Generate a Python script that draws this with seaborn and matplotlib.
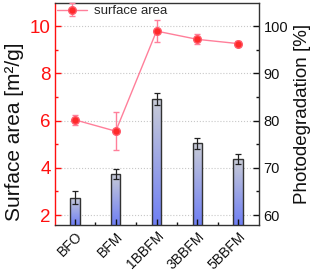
import numpy as np
import pandas as pd
import matplotlib
matplotlib.use("Agg")
import matplotlib.pyplot as plt
from matplotlib.ticker import MultipleLocator, FixedLocator
from matplotlib.colors import LinearSegmentedColormap
import seaborn as sns

categories = ["BFO", "BFM", "1BBFM", "3BBFM", "5BBFM"]
photodegradation = [63.7, 68.7, 84.6, 75.2, 71.8]
photo_err = [1.3, 1.0, 1.2, 1.2, 1.1]
surface_area = [6.03, 5.55, 9.79, 9.44, 9.26]
surface_err = [0.21, 0.8, 0.47, 0.21, 0.1]

sns.set_style("ticks")
plt.rcParams['font.family'] = ['Liberation Sans', 'DejaVu Sans']

fig = plt.figure(figsize=(3.18, 2.71), dpi=100)
ax = fig.add_axes([0.173, 0.170, 0.641, 0.819])
ax2 = ax.twinx()

df = pd.DataFrame({"cat": categories, "photo": photodegradation})
sns.barplot(data=df, x="cat", y="photo", ax=ax2, width=0.23,
            color="#9aa4e6", edgecolor="#333333", linewidth=1.0,
            errorbar=None)
ax2.errorbar(np.arange(len(categories)), photodegradation, yerr=photo_err,
             fmt="none", ecolor="#222222", elinewidth=0.9, capsize=2.5,
             capthick=0.9, zorder=5)

ylim2 = (57.9, 104.9)
xlim = (-0.49, 4.51)
cmap = LinearSegmentedColormap.from_list("g", ["#6f7ff5", "#c9ccd6"])
grad = np.linspace(0, 1, 256).reshape(-1, 1)
for p in list(ax2.patches):
    x0, w = p.get_x(), p.get_width()
    y0, h = p.get_y(), p.get_height()
    p.set_facecolor("none")
    im = ax2.imshow(grad, cmap=cmap, origin="lower", aspect="auto",
                    extent=[x0, x0 + w, ylim2[0], y0 + h], zorder=1.5)
    im.set_clip_path(p)
    p.set_zorder(2)

ax2.set_ylim(*ylim2)
ax2.set_xlim(*xlim)

# surface area line on left axis, drawn on top
ax.set_zorder(ax2.get_zorder() + 1)
ax.patch.set_visible(False)
ax.errorbar(np.arange(len(categories)), surface_area, yerr=surface_err,
            color="#ff7f9a", lw=1.0, marker="o", markersize=5.5,
            markerfacecolor="#ff2a2a", markeredgecolor="#ff5a6a",
            ecolor="#ff7f9a", elinewidth=1.0, capsize=2.5, capthick=1.0,
            label="surface area", zorder=6)
ax.set_ylim(1.58, 10.98)
ax.set_xlim(*xlim)

# grid on back axis
ax2.grid(True, which="major", axis="both", color="#c8c8c8", ls=":", lw=0.8)
ax2.set_axisbelow(True)

# ticks
ax.yaxis.set_major_locator(MultipleLocator(2))
ax.yaxis.set_minor_locator(MultipleLocator(1))
ax.tick_params(axis="y", which="both", direction="in", colors="#ff1010",
               labelsize=13.5, length=4, width=1, pad=3)
ax.tick_params(axis="y", which="minor", length=2.5)
ax2.yaxis.set_major_locator(MultipleLocator(10))
ax2.yaxis.set_minor_locator(MultipleLocator(5))
ax2.tick_params(axis="y", which="both", direction="in", colors="#111111",
                labelsize=10.5, length=4, width=1)
ax2.tick_params(axis="y", which="minor", length=2.5)

ax.set_xticks(np.arange(len(categories)))
ax.set_xticklabels(categories, rotation=45, ha="right", rotation_mode="anchor",
                   fontsize=10)
ax.xaxis.set_minor_locator(FixedLocator(np.arange(len(categories) - 1) + 0.5))
ax.tick_params(axis="x", which="both", direction="in", length=4, width=1,
               colors="#111111", pad=3)
ax.tick_params(axis="x", which="minor", length=2.5)
ax2.set_xlabel("")

for s in ["top", "right", "bottom"]:
    ax.spines[s].set_color("#333333")
    ax.spines[s].set_linewidth(1.0)
ax.spines["left"].set_color("#ff1010")
ax.spines["left"].set_linewidth(1.0)
for s in ax2.spines.values():
    s.set_visible(False)

ax.set_ylabel("Surface area [m²/g]", fontsize=15, color="#111111")
ax.yaxis.set_label_coords(-0.15, 0.42)
ax2.set_ylabel("Photodegradation [%]", fontsize=13.5, color="#111111", labelpad=4)
ax.set_xlabel("")

leg = ax.legend(loc="upper left", bbox_to_anchor=(0.0, 1.0), frameon=False,
                fontsize=9.5, handlelength=2.3, borderaxespad=0.0,
                borderpad=0.15, handletextpad=0.5)

fig.savefig("out.png", dpi=100)
